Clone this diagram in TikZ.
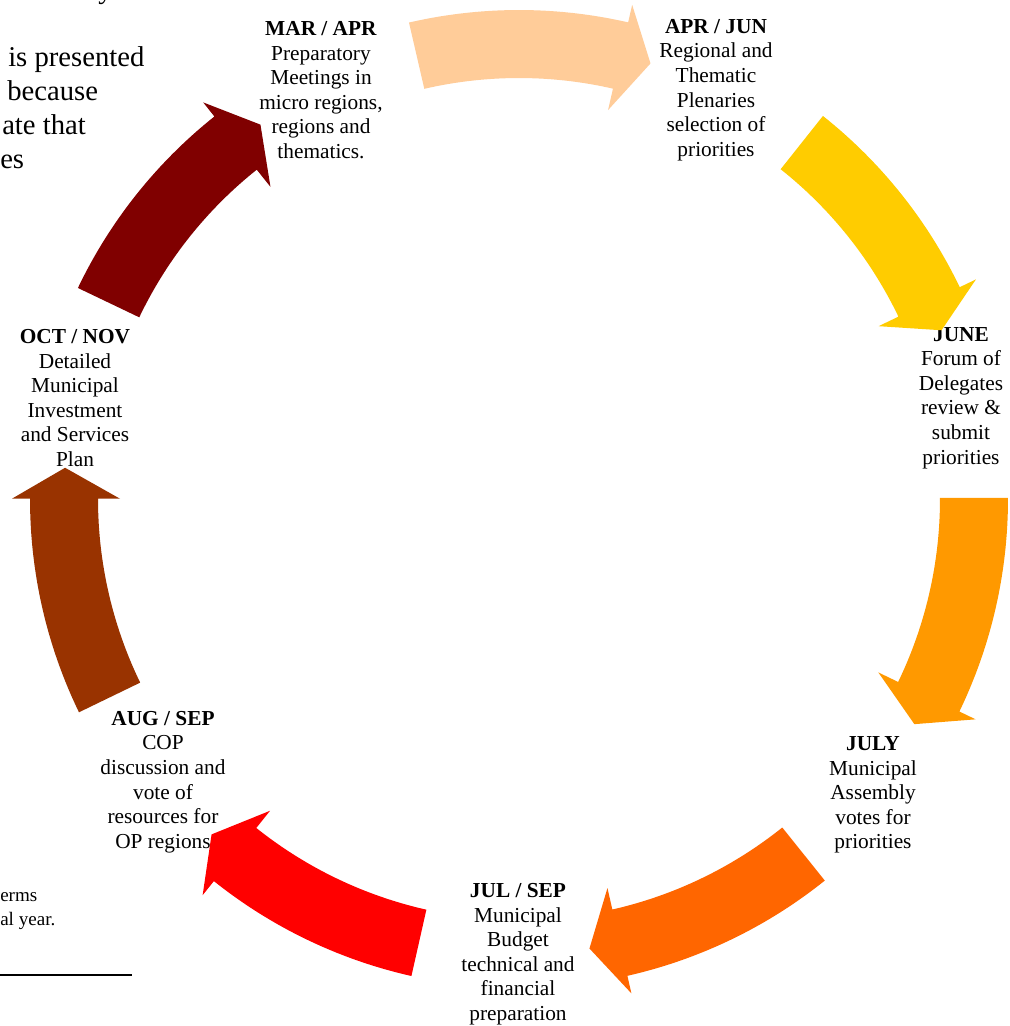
\documentclass[tikz,border=0pt]{standalone}
\usepackage{fontspec}
\setmainfont{Liberation Serif}
\definecolor{cPeach}{HTML}{FFCC99}
\definecolor{cYellow}{HTML}{FFCC00}
\definecolor{cOrange}{HTML}{FF9900}
\definecolor{cOrRed}{HTML}{FF6600}
\definecolor{cRed}{HTML}{FF0000}
\definecolor{cBrown}{HTML}{993300}
\definecolor{cDarkRed}{HTML}{800000}
\newcommand{\cycarrow}[2]{%
  \pgfmathsetmacro{\caT}{#1}%
  \pgfmathsetmacro{\caB}{#1+25.9}%
  \pgfmathsetmacro{\caP}{#1+29.8}%
  \fill[#2] plot[domain=\caT:\caB, samples=40, variable=\a] (\a:489)
    -- (\caB:507) -- (\caP:455) -- (\caB:399)
    -- plot[domain=\caB:\caT, samples=40, variable=\a] (\a:421) -- cycle;}
\begin{document}
\begin{tikzpicture}[x=0.75pt,y=-0.75pt,
  lbl/.style={align=center, inner sep=0pt, font=\fontsize{16}{18.4}\selectfont},
  side/.style={anchor=base west, inner sep=0pt, font=\fontsize{21.5}{25.5}\selectfont},
  note/.style={anchor=base west, inner sep=0pt, font=\fontsize{14.3}{18}\selectfont}]
\useasboundingbox (0,0) rectangle (1010,1026);
\fill[white] (0,0) rectangle (1010,1026);

% cut-off surrounding text
\node[side] (ty) at (98,-2) {y};
\node[side] (t1) at (8,66) {is presented};
\node[side] (t2) at (7,100) {because};
\node[side] (t3) at (2,134) {ate that};
\node[side] (t4) at (0,168) {es};
\node[note] (t5) at (0,901) {erms};
\node[note] (t6) at (0,925) {al year.};
\coordinate (ruleA) at (0,975);
\coordinate (ruleB) at (132,975);
\draw[line width=1.2pt] (ruleA) -- (ruleB);

% stage labels
\node[lbl] (marapr) at (321,90) {\textbf{MAR / APR}\\Preparatory\\Meetings in\\micro regions,\\regions and\\thematics.};
\node[lbl] (aprjun) at (716,90) {\textbf{APR / JUN}\\Regional and\\Thematic\\Plenaries\\selection of\\priorities};
\node[lbl] (june) at (961,398) {\textbf{JUNE}\\Forum of\\Delegates\\review \&\\submit\\priorities};
\node[lbl] (july) at (873,795) {\textbf{JULY}\\Municipal\\Assembly\\votes for\\priorities};
\node[lbl] (julsep) at (518,954) {\textbf{JUL / SEP}\\Municipal\\Budget\\technical and\\financial\\preparation};
\node[lbl] (augsep) at (163,782) {\textbf{AUG / SEP}\\COP\\discussion and\\vote of\\resources for\\OP regions};
\node[lbl] (octnov) at (75,398) {\textbf{OCT / NOV}\\Detailed\\Municipal\\Investment\\and Services\\Plan};

% cycle arrows
\begin{scope}[shift={(519,499)}]
\cycarrow{-103.0}{cPeach}
\cycarrow{-51.57}{cYellow}
\cycarrow{-0.14}{cOrange}
\cycarrow{51.29}{cOrRed}
\cycarrow{102.71}{cRed}
\cycarrow{154.14}{cBrown}
\cycarrow{205.57}{cDarkRed}
\end{scope}
\end{tikzpicture}
\end{document}
